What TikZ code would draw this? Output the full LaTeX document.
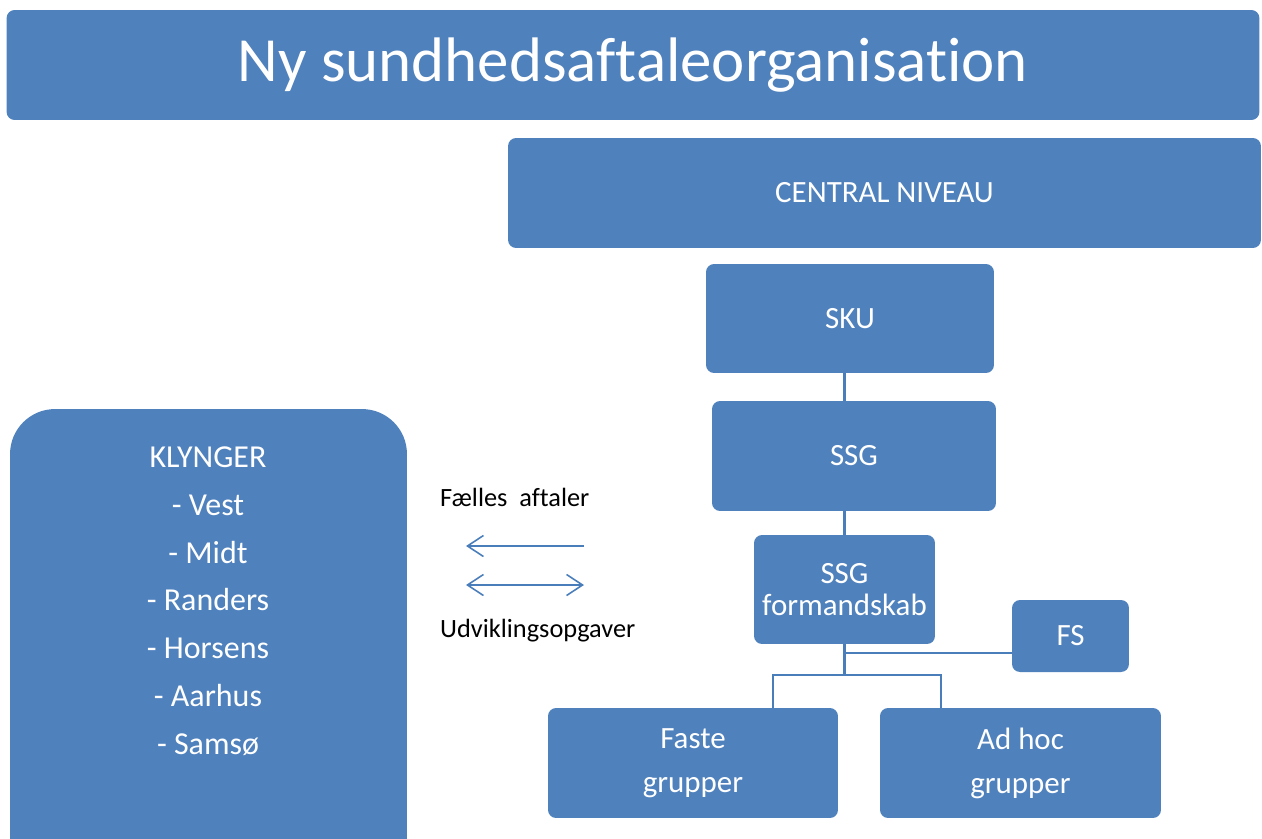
\documentclass[tikz,border=0pt]{standalone}
\usepackage{fontspec}
\setmainfont{Carlito}[Ligatures=NoCommon]
\usetikzlibrary{arrows.meta}
\usetikzlibrary{positioning}
\definecolor{boxblue}{HTML}{4F81BD}
\definecolor{lineblue}{HTML}{4A7EBB}

\tikzset{
  orgbox/.style={fill=boxblue, rounded corners=0.16cm, text=white,
    font=\fontsize{17.6}{22}\selectfont, align=center, inner sep=0pt},
  link/.style={draw=lineblue, line width=1.2pt},
  barb/.style={draw=lineblue, line width=0.9pt},
  note/.style={anchor=west, font=\fontsize{15}{17}\selectfont}
}

\begin{document}
\begin{tikzpicture}[x=0.02cm,y=-0.02cm]
  \useasboundingbox (0,0) rectangle (1262,839);

  % ---------- Title ----------
  \node[orgbox, minimum width=25.06cm, minimum height=2.2cm,
    font=\fontsize{35.8}{40}\selectfont] at (633,65) (title) {Ny sundhedsaftaleorganisation};

  % ---------- Central level ----------
  \node[orgbox, minimum width=15.06cm, minimum height=2.2cm] at (884.5,193) (central) {CENTRAL NIVEAU};
  \node[orgbox, minimum width=5.76cm, minimum height=2.18cm] at (850,318.5) (sku) {SKU};
  \node[orgbox, minimum width=5.68cm, minimum height=2.2cm] at (854,456) (ssg) {SSG};
  \node[orgbox, minimum width=3.62cm, minimum height=2.18cm,
    font=\fontsize{17.6}{18.5}\selectfont] at (844.5,589.5) (form) {SSG\\formandskab};
  \node[orgbox, minimum width=2.34cm, minimum height=1.44cm] at (1070.5,636) (fs) {FS};
  \node[orgbox, minimum width=5.8cm, minimum height=2.2cm,
    font=\fontsize{17.6}{25}\selectfont] at (693,763) (faste) {Faste\\grupper};
  \node[orgbox, minimum width=5.62cm, minimum height=2.2cm,
    font=\fontsize{17.6}{25}\selectfont] at (1020.5,763) (adhoc) {Ad hoc\\grupper};

  % ---------- Clusters ----------
  \node[orgbox, rounded corners=0.9cm, minimum width=7.94cm, minimum height=9.42cm] at (208.5,644.5) (klynger) {};
  \node[text=white, align=center, font=\fontsize{18.2}{27.2}\selectfont] at (208,601) (klyngerliste)
    {KLYNGER\\- Vest\\- Midt\\- Randers\\- Horsens\\- Aarhus\\- Samsø};

  % ---------- Lines ----------
  \coordinate (fsjoin) at (844.5,653);
  \coordinate (split) at (844.5,675);
  \coordinate (fastetop) at (773,708);
  \coordinate (adhoctop) at (941,708);
  \draw[link] (sku.south -| form.south) -- (ssg.north -| form.south);
  \draw[link] (ssg.south -| form.south) -- (form.north);
  \draw[link] (form.south) -- (split);
  \draw[link] (fsjoin) -- (fsjoin -| fs.west);
  \draw[link] (fastetop) |- (split) -| (adhoctop);

  % ---------- Arrows ----------
  \coordinate (pilAr) at (584,546);
  \coordinate (pilAl) at (466,546);
  \coordinate (pilBr) at (584,585);
  \coordinate (pilBl) at (466,585);
  \draw[barb, arrows={-Straight Barb[length=0.32cm,width=0.42cm]}] (pilAr) -- (pilAl);
  \draw[barb, arrows={Straight Barb[length=0.32cm,width=0.42cm]-Straight Barb[length=0.32cm,width=0.42cm]}] (pilBl) -- (pilBr);

  % ---------- Labels ----------
  \node[note] at (434,497) (faelles) {Fælles\ \ aftaler};
  \node[note] at (434,631) (udvikling) {Udviklingsopgaver};
\end{tikzpicture}
\end{document}
